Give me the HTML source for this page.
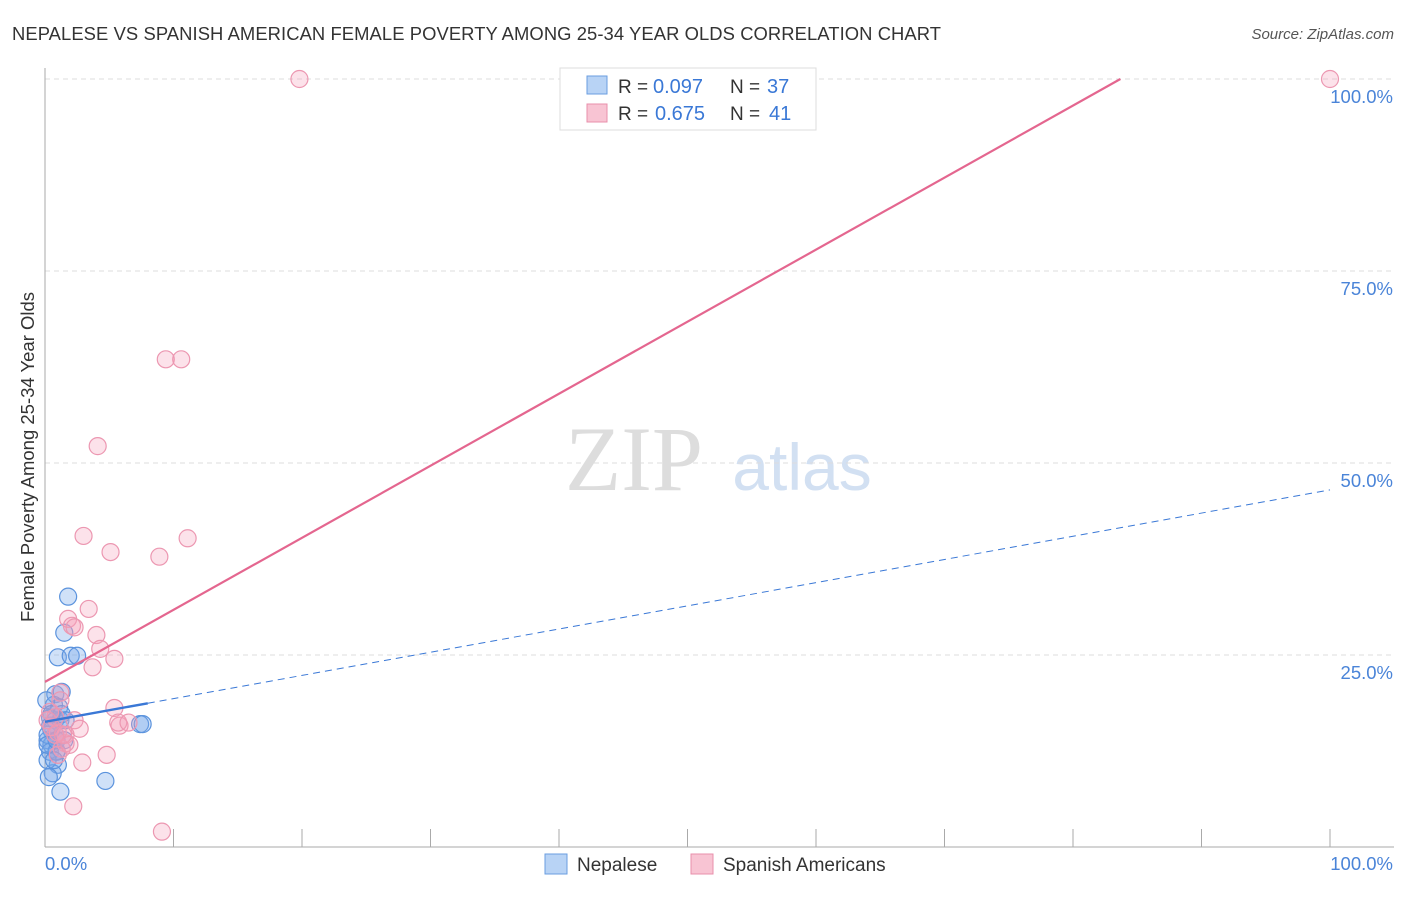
<!DOCTYPE html>
<html><head><meta charset="utf-8"><style>
body{margin:0;background:#fff;font-family:"Liberation Sans",sans-serif}
</style></head><body>
<svg width="1406" height="892" xmlns="http://www.w3.org/2000/svg" id="c">
<text x="12" y="40" font-size="18.4" fill="#333" textLength="929">NEPALESE VS SPANISH AMERICAN FEMALE POVERTY AMONG 25-34 YEAR OLDS CORRELATION CHART</text>
<text x="1394" y="39" font-size="15" fill="#555" text-anchor="end" font-style="italic">Source: ZipAtlas.com</text>
<text x="634" y="490" font-size="92" fill="#ddd" font-family="Liberation Serif,serif" text-anchor="middle">ZIP</text>
<text x="802" y="490" font-size="66" fill="#d2e0f2" text-anchor="middle">atlas</text>
<text transform="translate(34,457) rotate(-90)" font-size="18.5" fill="#333" text-anchor="middle">Female Poverty Among 25-34 Year Olds</text>
<g id="grid"></g><g id="pts"></g><g id="lines"></g>
<g>
<rect x="560" y="68" width="256" height="62" fill="#fff" stroke="#ddd"/>
<rect x="587" y="76" width="20" height="18" fill="#b8d3f5" stroke="#6a9ee0"/>
<text x="618" y="93" font-size="19" fill="#333">R =</text><text x="653" y="93" font-size="20" fill="#3a78d6">0.097</text>
<text x="730" y="93" font-size="19" fill="#333">N =</text><text x="767" y="93" font-size="20" fill="#3a78d6">37</text>
<rect x="587" y="104" width="20" height="18" fill="#f8c4d3" stroke="#e88fab"/>
<text x="618" y="120" font-size="19" fill="#333">R =</text><text x="655" y="120" font-size="20" fill="#3a78d6">0.675</text>
<text x="730" y="120" font-size="19" fill="#333">N =</text><text x="769" y="120" font-size="20" fill="#3a78d6">41</text>
</g>
<rect x="545" y="854" width="22" height="20" fill="#b8d3f5" stroke="#6a9ee0"/>
<text x="577" y="871" font-size="19" fill="#333">Nepalese</text>
<rect x="691" y="854" width="22" height="20" fill="#f8c4d3" stroke="#e88fab"/>
<text x="723" y="871" font-size="19" fill="#333">Spanish Americans</text>
</svg>
<script>
const yTicks=[25,50,75,100];
const yTickLabels=["25.0%","50.0%","75.0%","100.0%"];
const xTickLabels=["0.0%","100.0%"];
const blueX=[1.8,1.5,1.0,2.0,2.5,0.8,1.3,0.7,1.1,0.4,0.8,0.5,0.2,0.5,0.4,0.9,1.0,0.6,0.3,1.2,4.7,7.4,7.6,1.2,0.2,0.2,0.9,0.8,1.3,0.1,1.6,0.4,0.7,0.2,0.5,0.9,1.5];
const blueY=[32.6,27.9,24.7,24.9,24.9,19.9,20.2,18.5,18.2,16.8,16.5,15.2,13.9,13.3,12.4,12.5,10.7,9.6,9.1,7.2,8.6,16.0,16.0,16.5,14.6,11.3,12.4,14.6,17.3,19.1,16.5,15.8,11.3,13.3,17.3,13.9,13.9];
const pinkX=[19.8,100,9.4,10.6,4.1,3.0,5.1,11.1,8.9,3.4,1.8,2.1,2.3,4.0,4.3,5.4,3.7,1.2,5.4,5.8,5.7,6.5,2.3,2.7,1.6,1.6,1.3,1.0,4.8,2.9,2.2,9.1,0.4,0.8,0.5,1.0,0.2,1.2,0.8,1.9,1.4];
const pinkY=[100,100,63.5,63.5,52.2,40.5,38.4,40.2,37.8,31.0,29.7,28.8,28.6,27.6,25.8,24.5,23.4,20.1,18.1,15.8,16.2,16.2,16.5,15.4,14.6,13.5,12.8,12.0,12.0,11.0,5.3,2.0,17.6,16.9,15.6,14.9,16.5,19.1,14.6,13.3,14.6];
const pinkLine=[21.5,115.3];const blueLine=[16.3,46.5];
const X=v=>45+v*12.85, Y=v=>847-v*7.68;
const ns="http://www.w3.org/2000/svg";
function mk(t,a,p){const e=document.createElementNS(ns,t);for(const k in a)e.setAttribute(k,a[k]);document.getElementById(p).appendChild(e);return e;}
yTicks.forEach((t,i)=>{
 const g=mk('line',{x1:45,x2:1394,y1:Y(t),y2:Y(t),stroke:'#ddd','stroke-dasharray':'5,4'},'grid');
 
 
 const l=mk('text',{x:1393,y:Y(t)+24,'font-size':18.5,fill:'#4a84d8','text-anchor':'end'},'grid');l.textContent=yTickLabels[i];
 
 
});
mk('line',{x1:45,x2:45,y1:68,y2:847,stroke:'#aaa'},'grid');
mk('line',{x1:45,x2:1394,y1:847,y2:847,stroke:'#aaa'},'grid');
for(let i=1;i<=10;i++){mk('line',{x1:X(i*10),x2:X(i*10),y1:829,y2:847,stroke:'#aaa'},'grid');}
[[0,'start',45],[100,'end',1393]].forEach((d,i)=>{const t=mk('text',{x:d[2],y:870,'font-size':18.5,fill:'#4a84d8','text-anchor':d[1]},'grid');t.textContent=xTickLabels[i];
 
 });
blueX.forEach((x,i)=>{const c=mk('circle',{cx:X(x),cy:Y(blueY[i]),r:8.5,fill:'rgba(120,170,235,0.35)',stroke:'#5b93dd','stroke-width':1.2},'pts');
 
 });
pinkX.forEach((x,i)=>{const c=mk('circle',{cx:X(x),cy:Y(pinkY[i]),r:8.5,fill:'rgba(245,160,185,0.3)',stroke:'#ec97b1','stroke-width':1.2},'pts');
 
 });
const xEnd=(100-pinkLine[0])/((pinkLine[1]-pinkLine[0])/100);
const pl=mk('line',{x1:X(0),y1:Y(pinkLine[0]),x2:X(xEnd),y2:Y(100),stroke:'#e4668f','stroke-width':2.2},'lines');


const bv=x=>blueLine[0]+(blueLine[1]-blueLine[0])*x/100;
const bl=mk('line',{x1:X(0),y1:Y(bv(0)),x2:X(8),y2:Y(bv(8)),stroke:'#3a78d6','stroke-width':2.4},'lines');


const bd=mk('line',{x1:X(8),y1:Y(bv(8)),x2:X(100),y2:Y(bv(100)),stroke:'#3a78d6','stroke-width':1,'stroke-dasharray':'7,5'},'lines');


</script>
</body></html>
